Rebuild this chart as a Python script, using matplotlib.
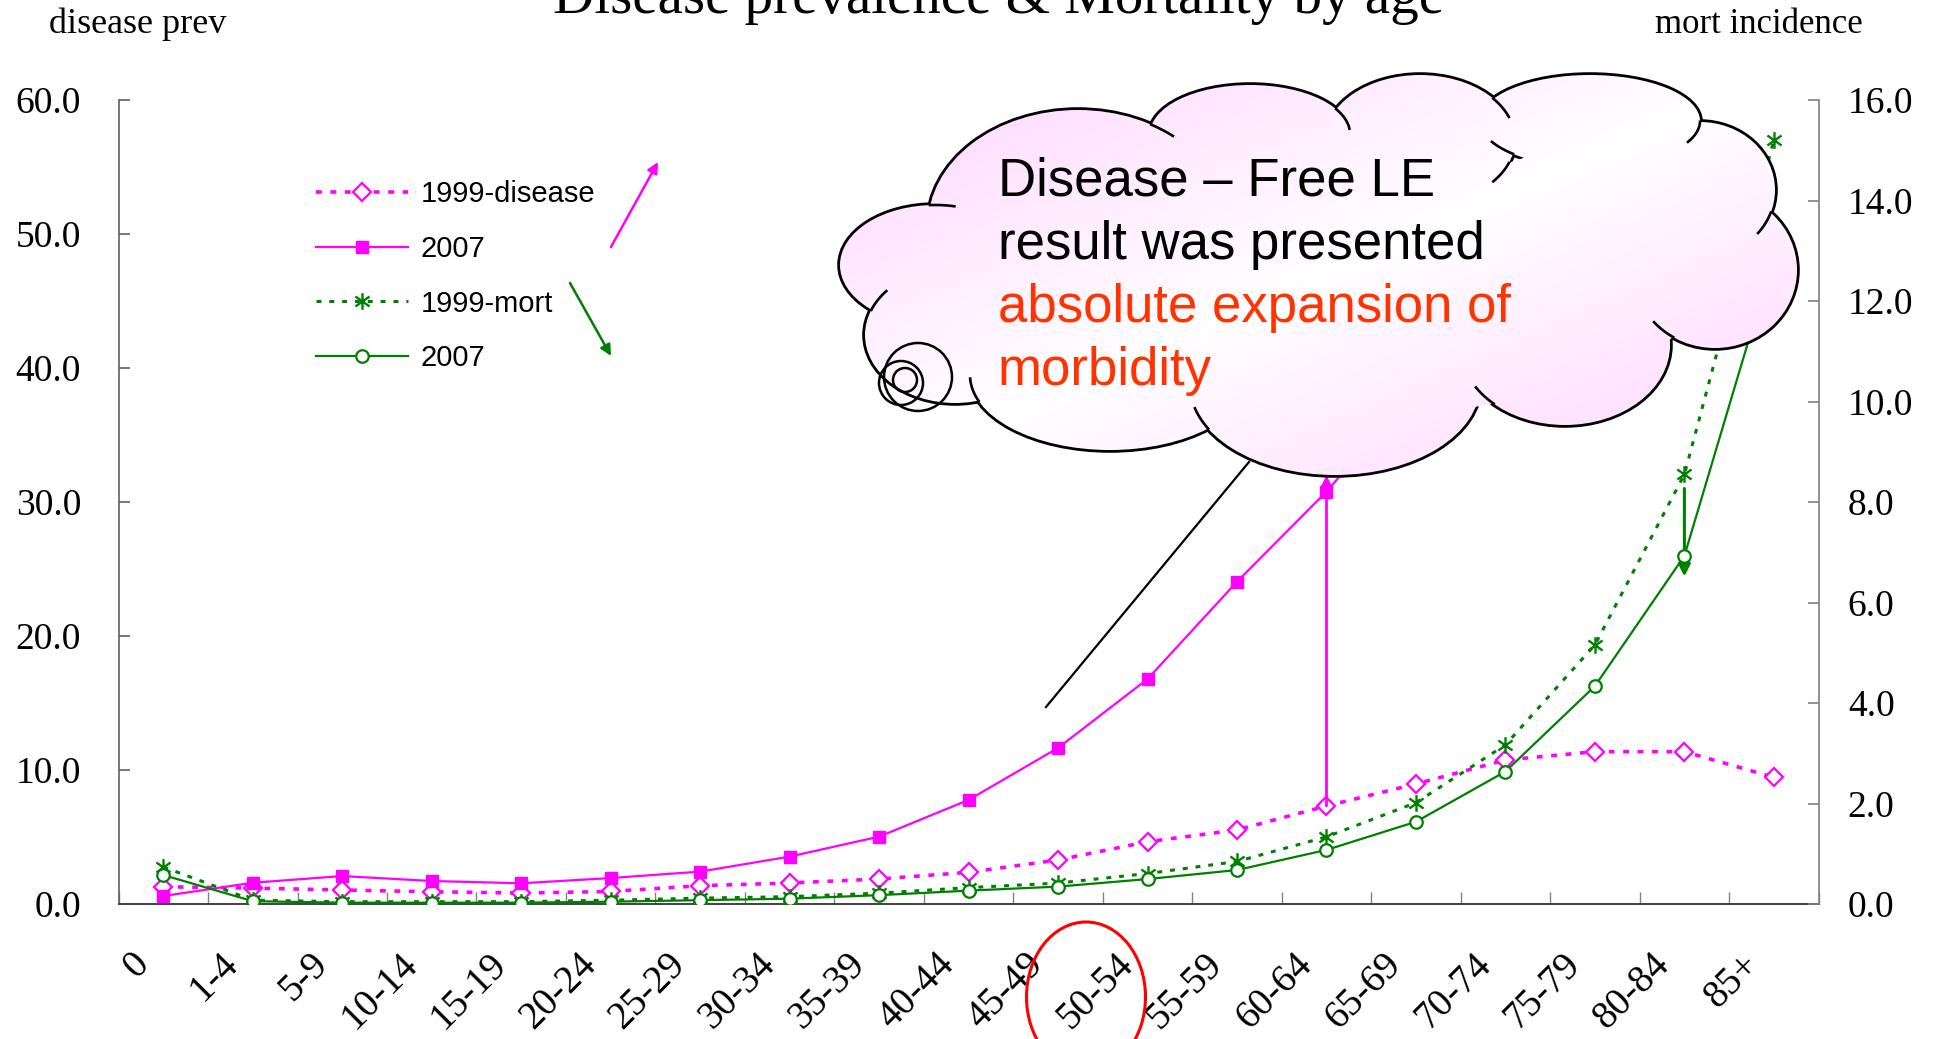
import numpy as np
import matplotlib
matplotlib.use('Agg')
import matplotlib.pyplot as plt
from matplotlib.patches import Ellipse, Circle, PathPatch
from matplotlib.path import Path
from matplotlib.ticker import FormatStrFormatter
from matplotlib.transforms import ScaledTranslation

ages = ['0', '1-4', '5-9', '10-14', '15-19', '20-24', '25-29', '30-34', '35-39', '40-44',
        '45-49', '50-54', '55-59', '60-64', '65-69', '70-74', '75-79', '80-84', '85+']
disease_1999 = [1.3, 1.2, 1.06, 0.93, 0.83, 0.95, 1.38, 1.58, 1.88, 2.38,
                3.3, 4.66, 5.54, 7.33, 8.97, 10.76, 11.38, 11.38, 9.47]
disease_2007 = [0.61, 1.6, 2.1, 1.73, 1.56, 1.95, 2.43, 3.55, 5.04, 7.78,
                11.66, 16.8, 24.06, 30.78, 38.5, 44.5, 48.1, 49.0, 46.0]
mort_1999 = [0.74, 0.08, 0.05, 0.05, 0.05, 0.08, 0.12, 0.15, 0.22, 0.33,
             0.42, 0.61, 0.85, 1.34, 2.02, 3.17, 5.16, 8.55, 15.2]
mort_2007 = [0.58, 0.06, 0.03, 0.03, 0.03, 0.05, 0.08, 0.11, 0.18, 0.27,
             0.35, 0.5, 0.68, 1.08, 1.64, 2.64, 4.34, 6.93, 12.9]
labels = ['1999-disease', '2007', '1999-mort', '2007']

cloud_lines = ['Disease \u2013 Free LE', 'result was presented',
               'absolute expansion of', 'morbidity']
cloud_colors = ['black', 'black', '#FF3300', '#FF3300']

mag = '#FF00FF'
grn = '#008000'
serif = 'Liberation Serif'
sans = 'Liberation Sans'

# excel-like star marker: vertical bar plus an x
star = Path([(0, -1), (0, 1), (-0.85, -0.6), (0.85, 0.6), (-0.85, 0.6), (0.85, -0.6)],
            [Path.MOVETO, Path.LINETO, Path.MOVETO, Path.LINETO, Path.MOVETO, Path.LINETO])

W, H = 1937, 1039
fig = plt.figure(figsize=(W / 100, H / 100), dpi=100)
ax = fig.add_axes([118.6 / W, (H - 904.2) / H, 1700 / W, 804.2 / H])
ax2 = ax.twinx()

x = np.arange(len(ages))
l1, = ax.plot(x, disease_1999, color=mag, ls=(0, (1.6, 2.4)), lw=2.6, marker='D', ms=9.5,
              mfc='white', mec=mag, mew=1.6, zorder=3)
l2, = ax.plot(x, disease_2007, color=mag, lw=1.6, marker='s', ms=9, mfc=mag, mec=mag, zorder=4)
l3, = ax2.plot(x, mort_1999, color=grn, ls=(0, (1.6, 2.6)), lw=2.2, marker=star, ms=12,
               mfc='none', mec=grn, mew=1.7, zorder=3)
l4, = ax2.plot(x, mort_2007, color=grn, lw=1.6, marker='o', ms=9, mfc='white', mec=grn,
               mew=1.6, zorder=4)

# arrows between the two years
ax.annotate('', xy=(13, 32.0), xytext=(13, disease_1999[13]),
            arrowprops=dict(arrowstyle='-|>', color=mag, lw=2, mutation_scale=16,
                            shrinkA=0, shrinkB=0))
ax2.annotate('', xy=(17, 6.52), xytext=(17, 8.27),
             arrowprops=dict(arrowstyle='-|>', color=grn, lw=2.2, mutation_scale=18,
                             shrinkA=0, shrinkB=0))

ax.set_xlim(-0.5, len(ages) - 0.5)
ax.set_ylim(0, 60)
ax2.set_ylim(0, 16)
ax.set_yticks(np.arange(0, 61, 10))
ax2.set_yticks(np.arange(0, 17, 2))
ax.yaxis.set_major_formatter(FormatStrFormatter('%.1f'))
ax2.yaxis.set_major_formatter(FormatStrFormatter('%.1f'))

ax.set_xticks(x)
ax.set_xticklabels(ages, rotation=45, ha='right', va='top', rotation_mode='anchor',
                   fontsize=28, family=serif)
ax.set_xticks(np.arange(-0.5, len(ages), 1), minor=True)
ax.tick_params(axis='x', which='major', length=0, pad=30)
ax.tick_params(axis='x', which='minor', direction='in', length=9, width=1, color='#808080')
off = ScaledTranslation(-0.33, 0, fig.dpi_scale_trans)
for lab in ax.get_xticklabels():
    lab.set_transform(lab.get_transform() + off)

ax.tick_params(axis='y', direction='in', length=8, width=1.2, color='#606060', pad=27,
               labelsize=27)
ax2.tick_params(axis='y', direction='in', length=8, width=1.2, color='#808080', pad=21,
                labelsize=27)
for lab in ax.get_yticklabels() + ax2.get_yticklabels():
    lab.set_family(serif)

for a in (ax, ax2):
    a.spines['top'].set_visible(False)
ax.spines['right'].set_visible(False)
ax2.spines['left'].set_visible(False)
ax2.spines['bottom'].set_visible(False)
ax.spines['left'].set_color('#606060')
ax.spines['left'].set_linewidth(1.2)
ax.spines['bottom'].set_color('#404040')
ax.spines['bottom'].set_linewidth(1.4)
ax2.spines['right'].set_color('#808080')
ax2.spines['right'].set_linewidth(1.2)

# overlay in pixel coordinates for the slide decorations
ov = fig.add_axes([0, 0, 1, 1])
ov.axis('off')

# pointer line from the cloud
ov.plot([1046, 1249], [707, 462], color='black', lw=1.6, zorder=1)

# cloud made of lobes (cx, cy, rx, ry) in pixels
lobes = [(935, 265, 95, 60), (1078, 225, 150, 115), (1250, 134, 100, 49),
         (1420, 140, 95, 65), (1590, 121, 110, 46), (1700, 190, 75, 68),
         (1715, 270, 82, 78), (1565, 345, 105, 80), (1335, 385, 145, 90),
         (1110, 375, 140, 75), (955, 335, 90, 68)]
fillers = [(1300, 290, 400, 130), (1580, 230, 130, 80)]
paths = []
for cx, cy, rx, ry in lobes:
    e = Ellipse((cx, cy), 2 * rx, 2 * ry, fc='none', ec='black', lw=4.0, zorder=2)
    ov.add_patch(e)
    paths.append(e.get_path().transformed(e.get_patch_transform()))
for cx, cy, rx, ry in fillers:
    e = Ellipse((cx, cy), 2 * rx, 2 * ry)
    paths.append(e.get_path().transformed(e.get_patch_transform()))
cloud_path = Path.make_compound_path(*paths)

x0, x1, y0, y1 = 830, 1810, 60, 490
gx, gy = np.meshgrid(np.linspace(0, 1, 300), np.linspace(0, 1, 150))
t = np.abs((gx + gy) / 2 - 0.5) * 2
pink = np.array([1.0, 0.82, 1.0])
grad = (1 - t[..., None]) * np.ones(3) + t[..., None] * pink
im = ov.imshow(grad, extent=(x0, x1, y1, y0), origin='upper', aspect='auto',
               interpolation='bilinear', zorder=3)
clip = PathPatch(cloud_path, transform=ov.transData, fc='none', ec='none')
im.set_clip_path(clip)

# short inner hooks where one lobe runs into the next
hook_len = 24
for i, (cx, cy, rx, ry) in enumerate(lobes):
    tt = np.linspace(0, 2 * np.pi, 1440, endpoint=False)
    pts = np.c_[cx + rx * np.cos(tt), cy - ry * np.sin(tt)]
    ins = np.zeros(len(pts), bool)
    for j, (mx, my, mrx, mry) in enumerate(lobes + fillers):
        if j != i:
            ins |= ((pts[:, 0] - mx) / mrx) ** 2 + ((pts[:, 1] - my) / mry) ** 2 < 1
    n = len(pts)
    seg = np.hypot(*(np.roll(pts, -1, axis=0) - pts).T)
    for k in range(n):
        if ins[k] and not ins[(k + 1) % n]:
            idx = [(k + 1) % n]
            s, m = 0, k
            while ins[m] and s < hook_len:
                idx.append(m)
                s += seg[m]
                m = (m - 1) % n
            ov.plot(pts[idx, 0], pts[idx, 1], color='black', lw=1.9, zorder=4)

for cx, cy, r in [(905, 380, 12), (901, 383, 22), (918, 377, 34)]:
    ov.add_patch(Circle((cx, cy), r, fc='none', ec='black', lw=1.8, zorder=4))

for i, (txt, col) in enumerate(zip(cloud_lines, cloud_colors)):
    ov.text(998, 195 + i * 63.5, txt, color=col, fontsize=38, family=sans,
            va='baseline', ha='left', zorder=5)

# red circle around 50-54
ov.add_patch(Ellipse((1086, 997), 119, 150, fc='none', ec='#FF0000', lw=2.2, zorder=6))

# small arrows beside the legend
ov.annotate('', xy=(658, 162), xytext=(611, 247),
            arrowprops=dict(arrowstyle='-|>', color=mag, lw=1.8, mutation_scale=16,
                            shrinkA=0, shrinkB=0))
ov.annotate('', xy=(611, 356), xytext=(570, 283),
            arrowprops=dict(arrowstyle='-|>', color=grn, lw=1.8, mutation_scale=16,
                            shrinkA=0, shrinkB=0))

ov.legend([l1, l2, l3, l4], labels, loc='upper left', bbox_to_anchor=(316, 180),
          bbox_transform=ov.transData, frameon=False, borderpad=0, borderaxespad=0,
          handlelength=3.15, handletextpad=0.45, labelspacing=0.92, numpoints=1,
          prop={'family': sans, 'size': 21})

ov.text(999, 13, 'Disease prevalence & Mortality by age', fontsize=41, family=serif,
        ha='center', va='baseline')
ov.text(137.5, 33, 'disease prev', fontsize=26, family=serif, ha='center', va='baseline')
ov.text(1759, 33, 'mort incidence', fontsize=25, family=serif, ha='center', va='baseline')

ov.set_xlim(0, W)
ov.set_ylim(H, 0)

fig.savefig('out.png', dpi=100)
